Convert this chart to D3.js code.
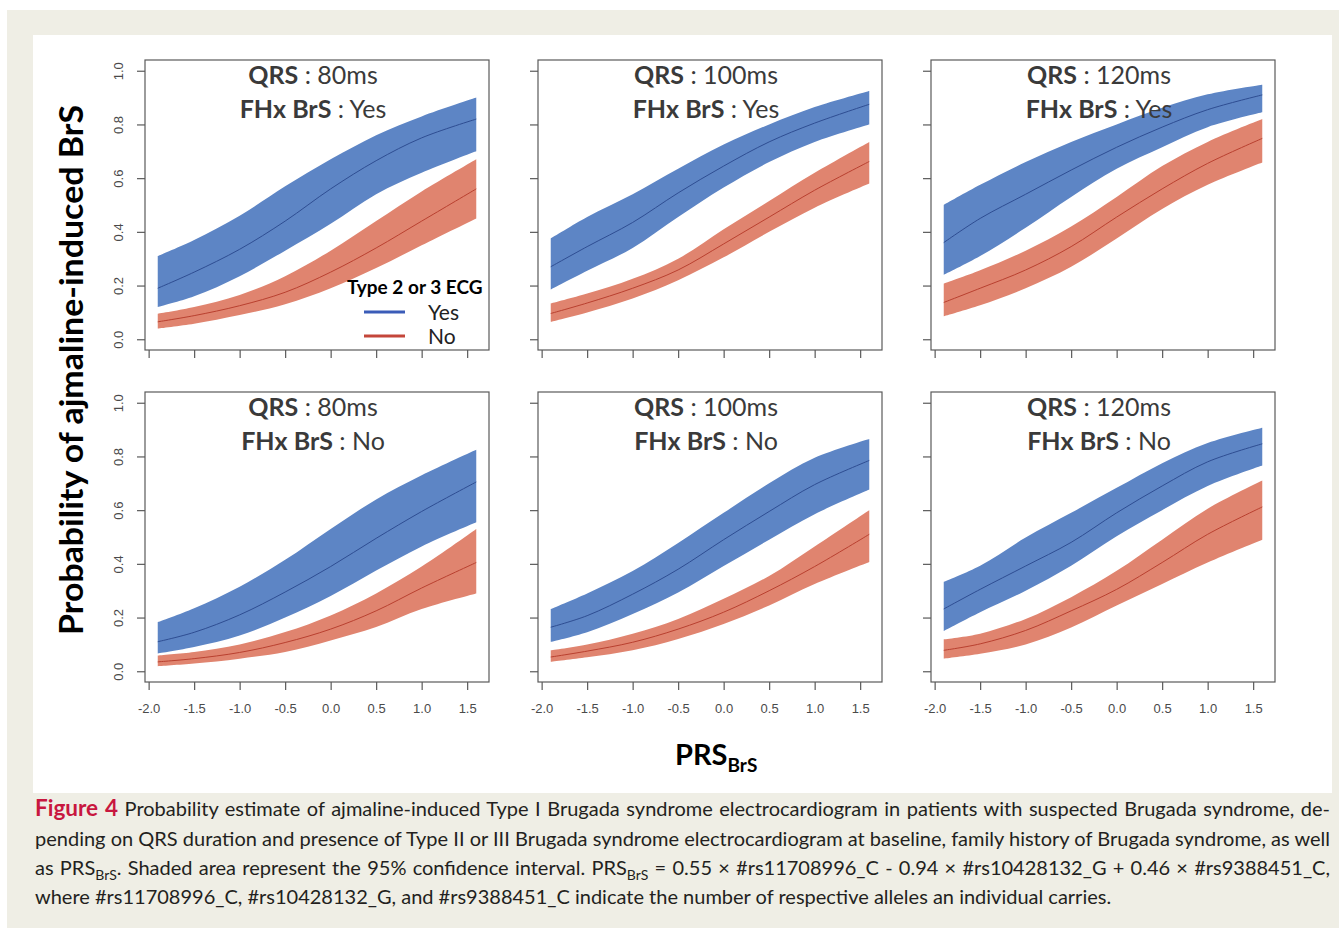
<!DOCTYPE html>
<html>
<head>
<meta charset="utf-8">
<script src="https://cdn.jsdelivr.net/npm/d3@7"></script>
<style>
  body { margin: 0; background: #ffffff; }
  svg { display: block; }
</style>
</head>
<body>
<script>
  const prsGrid = [-1.9, -1.5, -1.0, -0.5, 0.0, 0.5, 1.0, 1.6];
  const xTicks = [-2.0, -1.5, -1.0, -0.5, 0.0, 0.5, 1.0, 1.5];
  const yTicks = [0.0, 0.2, 0.4, 0.6, 0.8, 1.0];
  const qrsLabels = ['80ms', '100ms', '120ms'];
  const fhxLabels = ['Yes', 'No'];
  const ecgLabels = ['Yes', 'No'];

  // each array: [estimate, lower 95%, upper 95%]
  const fhxYesQrs80EcgYes = [
    [0.19, 0.25, 0.335, 0.44, 0.56, 0.665, 0.75, 0.82],
    [0.12, 0.16, 0.235, 0.33, 0.43, 0.54, 0.62, 0.70],
    [0.31, 0.37, 0.46, 0.57, 0.67, 0.76, 0.83, 0.90]
  ];
  const fhxYesQrs80EcgNo = [
    [0.065, 0.088, 0.125, 0.175, 0.25, 0.34, 0.44, 0.56],
    [0.04, 0.058, 0.09, 0.13, 0.19, 0.265, 0.35, 0.45],
    [0.095, 0.12, 0.165, 0.235, 0.33, 0.44, 0.55, 0.67]
  ];
  const fhxYesQrs100EcgYes = [
    [0.27, 0.345, 0.435, 0.545, 0.645, 0.735, 0.805, 0.875],
    [0.185, 0.255, 0.34, 0.455, 0.565, 0.66, 0.735, 0.80],
    [0.375, 0.455, 0.54, 0.635, 0.725, 0.80, 0.865, 0.925]
  ];
  const fhxYesQrs100EcgNo = [
    [0.096, 0.135, 0.19, 0.258, 0.355, 0.455, 0.555, 0.662],
    [0.065, 0.10, 0.152, 0.22, 0.305, 0.40, 0.49, 0.58],
    [0.133, 0.17, 0.225, 0.30, 0.41, 0.515, 0.62, 0.735]
  ];
  const fhxYesQrs120EcgYes = [
    [0.36, 0.45, 0.54, 0.63, 0.715, 0.79, 0.855, 0.91],
    [0.24, 0.31, 0.415, 0.53, 0.635, 0.715, 0.79, 0.845],
    [0.50, 0.575, 0.66, 0.735, 0.80, 0.862, 0.912, 0.948]
  ];
  const fhxYesQrs120EcgNo = [
    [0.137, 0.19, 0.258, 0.345, 0.455, 0.56, 0.655, 0.748],
    [0.086, 0.127, 0.19, 0.27, 0.375, 0.485, 0.575, 0.658],
    [0.207, 0.257, 0.33, 0.42, 0.53, 0.645, 0.735, 0.82]
  ];
  const fhxNoQrs80EcgYes = [
    [0.11, 0.145, 0.21, 0.295, 0.39, 0.495, 0.595, 0.705],
    [0.066, 0.09, 0.133, 0.20, 0.28, 0.375, 0.465, 0.555],
    [0.183, 0.235, 0.315, 0.415, 0.53, 0.64, 0.73, 0.825]
  ];
  const fhxNoQrs80EcgNo = [
    [0.035, 0.047, 0.07, 0.107, 0.157, 0.225, 0.31, 0.405],
    [0.019, 0.029, 0.047, 0.072, 0.115, 0.165, 0.232, 0.29],
    [0.059, 0.072, 0.10, 0.146, 0.208, 0.29, 0.39, 0.53]
  ];
  const fhxNoQrs100EcgYes = [
    [0.164, 0.207, 0.287, 0.38, 0.49, 0.595, 0.695, 0.785],
    [0.109, 0.145, 0.213, 0.293, 0.392, 0.49, 0.585, 0.677],
    [0.232, 0.29, 0.373, 0.478, 0.59, 0.70, 0.795, 0.865]
  ];
  const fhxNoQrs100EcgNo = [
    [0.053, 0.075, 0.108, 0.157, 0.22, 0.30, 0.39, 0.51],
    [0.035, 0.052, 0.078, 0.12, 0.176, 0.245, 0.325, 0.407],
    [0.078, 0.10, 0.14, 0.195, 0.27, 0.355, 0.465, 0.60]
  ];
  const fhxNoQrs120EcgYes = [
    [0.232, 0.305, 0.392, 0.48, 0.59, 0.69, 0.78, 0.847],
    [0.15, 0.22, 0.30, 0.393, 0.503, 0.60, 0.69, 0.766],
    [0.333, 0.393, 0.498, 0.59, 0.683, 0.775, 0.85, 0.907]
  ];
  const fhxNoQrs120EcgNo = [
    [0.078, 0.102, 0.152, 0.225, 0.305, 0.405, 0.51, 0.612],
    [0.047, 0.065, 0.10, 0.163, 0.245, 0.325, 0.405, 0.49],
    [0.119, 0.14, 0.195, 0.276, 0.374, 0.49, 0.605, 0.71]
  ];

  const panelSeries = [
    [[fhxYesQrs80EcgYes, fhxYesQrs80EcgNo], [fhxYesQrs100EcgYes, fhxYesQrs100EcgNo], [fhxYesQrs120EcgYes, fhxYesQrs120EcgNo]],
    [[fhxNoQrs80EcgYes, fhxNoQrs80EcgNo], [fhxNoQrs100EcgYes, fhxNoQrs100EcgNo], [fhxNoQrs120EcgYes, fhxNoQrs120EcgNo]]
  ];

  const W = 1339, H = 930;
  const panelLeft = [145, 538, 931],
    panelTop = [60, 392],
    panelW = 344,
    panelH = 290;

  const bandFill = ['#5d85c5', '#e0846f'],
    lineCol = ['#2e4d92', '#b9402f'],
    legendCol = ['#3b5cb8', '#c4463a'],
    titleFont = 'Lato, "Open Sans", sans-serif',
    axisFont = '"Liberation Sans", Arial, sans-serif';

  let svg = d3.select('body').append('svg')
    .attr('width', W)
    .attr('height', H);

  /*
   * backgrounds
   */
  svg.append('rect').attr('x', 7).attr('y', 10).attr('width', W - 7).attr('height', 918).attr('fill', '#efeee5');
  svg.append('rect').attr('x', 33).attr('y', 35).attr('width', 1299).attr('height', 758).attr('fill', '#ffffff');

  /*
   * panels
   */
  panelSeries.forEach(function (row, r) {
    row.forEach(function (series, c) {
      let left = panelLeft[c], top = panelTop[r];
      let x = d3.scaleLinear().domain([-2.04, 1.74]).range([left, left + panelW]);
      let y = d3.scaleLinear().domain([-0.04, 1.04]).range([top + panelH, top]);

      let g = svg.append('g');

      let area = d3.area()
        .x(function (d) { return x(d.prs); })
        .y0(function (d) { return y(d.lo); })
        .y1(function (d) { return y(d.hi); })
        .curve(d3.curveCatmullRom.alpha(0.5));
      let line = d3.line()
        .x(function (d) { return x(d.prs); })
        .y(function (d) { return y(d.est); })
        .curve(d3.curveCatmullRom.alpha(0.5));

      let rows = series.map(function (s) {
        return prsGrid.map(function (p, i) {
          return { prs: p, est: s[0][i], lo: s[1][i], hi: s[2][i] };
        });
      });

      g.selectAll('path.band')
        .data(rows)
        .enter()
        .append('path')
        .attr('class', 'band')
        .attr('d', area)
        .attr('fill', function (d, i) { return bandFill[i]; });

      g.selectAll('path.est')
        .data(rows)
        .enter()
        .append('path')
        .attr('class', 'est')
        .attr('d', line)
        .attr('fill', 'none')
        .attr('stroke', function (d, i) { return lineCol[i]; })
        .attr('stroke-width', 1);

      // box
      g.append('rect')
        .attr('x', left).attr('y', top)
        .attr('width', panelW).attr('height', panelH)
        .attr('fill', 'none')
        .attr('stroke', '#5a5a5a')
        .attr('stroke-width', 1.2);

      // y axis
      let yAxis = g.append('g')
        .attr('transform', 'translate(' + left + ',0)')
        .call(d3.axisLeft(y).tickValues(yTicks).tickSize(8)
          .tickFormat(function (d) { return c === 0 ? d.toFixed(1) : ''; }));
      yAxis.select('.domain').remove();
      yAxis.selectAll('line').attr('stroke', '#5a5a5a').attr('stroke-width', 1.2);
      yAxis.selectAll('text')
        .attr('transform', 'rotate(-90)')
        .attr('x', 0).attr('y', -22).attr('dy', 0)
        .attr('text-anchor', 'middle')
        .attr('fill', '#4a4a4a')
        .style('font', '13px ' + axisFont);

      // x axis
      let xAxis = g.append('g')
        .attr('transform', 'translate(0,' + (top + panelH) + ')')
        .call(d3.axisBottom(x).tickValues(xTicks).tickSize(8)
          .tickFormat(function (d) { return r === 1 ? d.toFixed(1) : ''; }));
      xAxis.select('.domain').remove();
      xAxis.selectAll('line').attr('stroke', '#5a5a5a').attr('stroke-width', 1.2);
      xAxis.selectAll('text')
        .attr('y', 22)
        .attr('fill', '#4a4a4a')
        .style('font', '13px ' + axisFont);

      // panel titles
      let cx = left + 168;
      let t1 = g.append('text')
        .attr('x', cx).attr('y', top + 24)
        .attr('text-anchor', 'middle')
        .attr('fill', '#3a3a3a')
        .style('font-family', titleFont)
        .style('font-size', '25px');
      t1.append('tspan').attr('font-weight', 'bold').text('QRS');
      t1.append('tspan').text(' : ' + qrsLabels[c]);
      let t2 = g.append('text')
        .attr('x', cx).attr('y', top + 58)
        .attr('text-anchor', 'middle')
        .attr('fill', '#3a3a3a')
        .style('font-family', titleFont)
        .style('font-size', '25px');
      t2.append('tspan').attr('font-weight', 'bold').text('FHx BrS');
      t2.append('tspan').text(' : ' + fhxLabels[r]);
    });
  });

  /*
   * legend in first panel
   */
  let legend = svg.append('g');
  legend.append('text')
    .attr('x', 347).attr('y', 294)
    .attr('fill', '#000')
    .style('font-family', titleFont)
    .style('font-size', '19px')
    .style('font-weight', 'bold')
    .text('Type 2 or 3 ECG');
  legend.selectAll('line')
    .data(ecgLabels)
    .enter()
    .append('line')
    .attr('x1', 364).attr('x2', 405)
    .attr('y1', function (d, i) { return 312 + i * 24; })
    .attr('y2', function (d, i) { return 312 + i * 24; })
    .attr('stroke', function (d, i) { return legendCol[i]; })
    .attr('stroke-width', 3);
  legend.selectAll('text.lab')
    .data(ecgLabels)
    .enter()
    .append('text')
    .attr('class', 'lab')
    .attr('x', 428)
    .attr('y', function (d, i) { return 320 + i * 24; })
    .attr('fill', '#222')
    .style('font-family', titleFont)
    .style('font-size', '21px')
    .text(function (d) { return d; });

  /*
   * axis titles
   */
  svg.append('text')
    .attr('transform', 'translate(83,370) rotate(-90)')
    .attr('text-anchor', 'middle')
    .attr('fill', '#000')
    .attr('textLength', 530)
    .attr('lengthAdjust', 'spacingAndGlyphs')
    .style('font-family', titleFont)
    .style('font-size', '33px')
    .style('font-weight', 'bold')
    .text('Probability of ajmaline-induced BrS');

  let xt = svg.append('text')
    .attr('x', 675).attr('y', 765)
    .attr('fill', '#000')
    .style('font-family', titleFont)
    .style('font-weight', 'bold')
    .style('font-size', '29px');
  xt.append('tspan').text('PRS');
  xt.append('tspan').attr('dy', 7).style('font-size', '19px').text('BrS');

  /*
   * caption
   */
  const capLeft = 35, capRight = 1330;
  const capFont = 'Lato, "Open Sans", sans-serif';

  function justify(sel, target) {
    let w = sel.node().getComputedTextLength();
    let n = (sel.text().match(/ /g) || []).length;
    if (w <= target) {
      sel.attr('word-spacing', (target - w) / n);
    } else {
      sel.attr('textLength', target).attr('lengthAdjust', 'spacingAndGlyphs');
    }
  }

  function capLine(yy) {
    return svg.append('text')
      .attr('x', capLeft).attr('y', yy)
      .attr('fill', '#231f20')
      .style('font-family', capFont)
      .style('font-size', '20px');
  }

  let c1 = capLine(816);
  c1.append('tspan').attr('fill', '#c8173f').style('font-weight', 'bold').style('font-size', '22.5px').text('Figure 4');
  c1.append('tspan').text(' Probability estimate of ajmaline-induced Type I Brugada syndrome electrocardiogram in patients with suspected Brugada syndrome, de-');
  justify(c1, capRight - capLeft);

  let c2 = capLine(846);
  c2.text('pending on QRS duration and presence of Type II or III Brugada syndrome electrocardiogram at baseline, family history of Brugada syndrome, as well');
  justify(c2, capRight - capLeft);

  let c3 = capLine(875);
  c3.append('tspan').text('as PRS');
  c3.append('tspan').attr('dy', 5).style('font-size', '14px').text('BrS');
  c3.append('tspan').attr('dy', -5).text('. Shaded area represent the 95% confidence interval. PRS');
  c3.append('tspan').attr('dy', 5).style('font-size', '14px').text('BrS');
  c3.append('tspan').attr('dy', -5).text(' = 0.55 \u00d7 #rs11708996_C - 0.94 \u00d7 #rs10428132_G + 0.46 \u00d7 #rs9388451_C,');
  justify(c3, capRight - capLeft);

  let c4 = capLine(904);
  c4.text('where #rs11708996_C, #rs10428132_G, and #rs9388451_C indicate the number of respective alleles an individual carries.');
</script>
</body>
</html>
